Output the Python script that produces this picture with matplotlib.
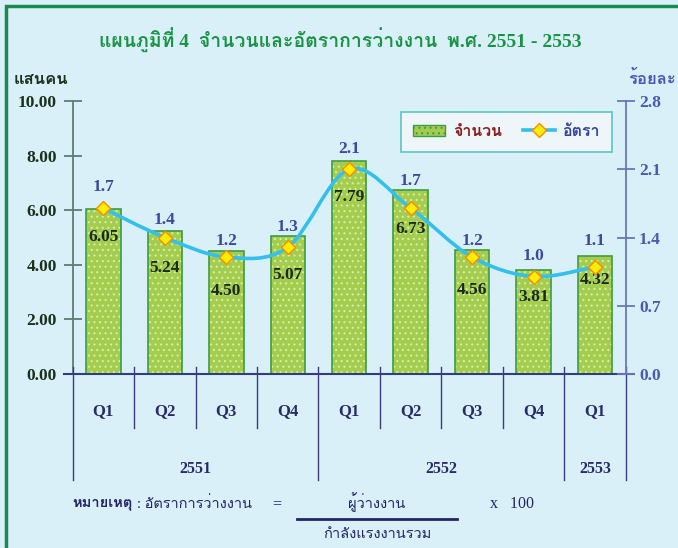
import matplotlib
matplotlib.use("Agg")
import matplotlib.pyplot as plt
import matplotlib.font_manager as fm
from matplotlib.ft2font import FT2Font
from matplotlib.path import Path
from matplotlib.patches import PathPatch, Rectangle, Patch
from matplotlib.lines import Line2D
from matplotlib.text import Annotation
import numpy as np

# ---------------- data ----------------
quarters = ["Q1", "Q2", "Q3", "Q4", "Q1", "Q2", "Q3", "Q4", "Q1"]
years = ["2551", "2552", "2553"]
year_spans = [(0, 3), (4, 7), (8, 8)]
values = [6.05, 5.24, 4.50, 5.07, 7.79, 6.73, 4.56, 3.81, 4.32]
rates = [1.7, 1.4, 1.2, 1.3, 2.1, 1.7, 1.2, 1.0, 1.1]
left_ticks = [0, 2, 4, 6, 8, 10]
right_ticks = [0.0, 0.7, 1.4, 2.1, 2.8]

title = "แผนภูมิที่ 4  จำนวนและอัตราการว่างงาน  พ.ศ. 2551 - 2553"

# label placement (pixels) as in the original chart
value_label_drop = [28, 37, 40, 39, 36, 39, 40, 27, 24]
rate_label_rise = [21, 18, 16, 20, 20, 27, 16, 21, 26]

# ------------- find a Thai-capable font -------------
thai_fams = []
for f in fm.fontManager.ttflist:
    try:
        ft = FT2Font(f.fname)
        if ft.get_char_index(0x0E08) and ft.get_char_index(0x0E33):
            if f.name not in thai_fams:
                thai_fams.append(f.name)
    except Exception:
        pass
SERIF = ["Liberation Serif"] + thai_fams + ["DejaVu Sans"]

BG = "#d9f0f8"
fig = plt.figure(figsize=(6.78, 5.48), dpi=100, facecolor=BG)
W, H = 678, 548
L, R, T, B = 72.7, 625.7, 101, 374
ax = fig.add_axes([L / W, 1 - B / H, (R - L) / W, (B - T) / H])
ax.set_facecolor("none")
ax2 = ax.twinx()
ax2.set_facecolor("none")

x = np.arange(len(values))
ax.set_xlim(-0.5, len(values) - 0.5)
ax.set_ylim(0, 10)
ax2.set_ylim(0, 2.8)

# bars (fill + hatch, then outline)
plt.rcParams["hatch.linewidth"] = 0.8
ax.bar(x, values, width=0.56, color="#a4cd50", edgecolor="#d6eea0",
       hatch="...", linewidth=0, zorder=2)
ax.bar(x, values, width=0.56, facecolor="none", edgecolor="#3f9c46",
       linewidth=1.2, zorder=3)

# value labels
for xi, v, d in zip(x, values, value_label_drop):
    ax.annotate(f"{v:.2f}", (xi, v), xytext=(0, -d), textcoords="offset pixels",
                ha="center", va="center", fontsize=12.5, fontweight="bold",
                family=SERIF, color="#1c2a1c", zorder=6)

# smooth rate line (Catmull-Rom bezier through the data points)
pts = np.column_stack([x, rates]).astype(float)
verts = [tuple(pts[0])]
codes = [Path.MOVETO]
for i in range(len(pts) - 1):
    p0 = pts[i - 1] if i > 0 else pts[i]
    p1, p2 = pts[i], pts[i + 1]
    p3 = pts[i + 2] if i + 2 < len(pts) else pts[i + 1]
    c1 = p1 + (p2 - p0) / 6.0
    c2 = p2 - (p3 - p1) / 6.0
    verts += [tuple(c1), tuple(c2), tuple(p2)]
    codes += [Path.CURVE4] * 3
ax2.add_patch(PathPatch(Path(verts, codes), facecolor="none",
                        edgecolor="#33c0ee", linewidth=2.6, zorder=4))
ax2.plot(x, rates, linestyle="none", marker="D", markersize=7,
         markerfacecolor="#ffee00", markeredgecolor="#ff8a00",
         markeredgewidth=1.0, zorder=5)
for xi, r, d in zip(x, rates, rate_label_rise):
    ax2.annotate(f"{r:.1f}", (xi, r), xytext=(0, d), textcoords="offset pixels",
                 ha="center", va="center", fontsize=12.5, fontweight="bold",
                 family=SERIF, color="#3a4aa4", zorder=6)

# axes styling
for a in (ax, ax2):
    a.spines["top"].set_visible(False)
    a.spines["bottom"].set_visible(False)
    a.set_xticks([])
ax2.spines["left"].set_visible(False)
ax.spines["right"].set_visible(False)
ax.spines["left"].set_color("#5e7c74")
ax.spines["left"].set_linewidth(1.3)
ax2.spines["right"].set_color("#6a78b8")
ax2.spines["right"].set_linewidth(1.3)

ax.set_yticks(left_ticks)
ax.set_yticklabels([f"{t:.2f}" for t in left_ticks], family=SERIF,
                   fontweight="bold", fontsize=12.5, color="#1c301c")
ax.tick_params(axis="y", direction="inout", length=13, width=1.3,
               color="#5e7c74", pad=5)
ax2.set_yticks(right_ticks)
ax2.set_yticklabels([f"{t:.1f}" for t in right_ticks], family=SERIF,
                    fontweight="bold", fontsize=12.5, color="#4a5ab4")
ax2.tick_params(axis="y", direction="inout", length=13, width=1.3,
                color="#6a78b8", pad=3)

# x axis line and category separators
ah = B - T
def ay(py):
    return (B - py) / ah
trans = ax.get_xaxis_transform()
ax.plot([-0.64, 8.64], [0, 0], transform=trans, color="#343c80",
        linewidth=1.5, clip_on=False, zorder=7)
year_bounds = [-0.5, 3.5, 7.5, 8.5]
for xb in np.arange(-0.5, len(values) + 0.5, 1.0):
    bottom = ay(480) if xb in year_bounds else ay(428)
    ax.plot([xb, xb], [ay(367), bottom], transform=trans, color="#3c3c7c",
            linewidth=1.0, clip_on=False, zorder=7)
for xi, q in zip(x, quarters):
    ax.text(xi, ay(411), q, transform=trans, ha="center", va="center",
            family=SERIF, fontweight="bold", fontsize=12, color="#2a2a6a")
for yr, (a0, a1) in zip(years, year_spans):
    ax.text((a0 + a1) / 2, ay(469), yr, transform=trans, ha="center",
            va="center", family=SERIF, fontweight="bold", fontsize=11.5,
            color="#2a2a6a")

# legend
handles = [Patch(facecolor="#a4cd50", edgecolor="#3f9c46", hatch="...",
                 linewidth=1.0),
           Line2D([0], [0], color="#33c0ee", linewidth=2.6, marker="D",
                  markersize=7, markerfacecolor="#ffee00",
                  markeredgecolor="#ff8a00")]
leg = ax2.legend(handles, ["จำนวน", "อัตรา"], ncol=2, loc="upper right",
                 bbox_to_anchor=((612 - L) / (R - L), ay(112)),
                 borderaxespad=0, frameon=True, fancybox=False,
                 borderpad=0.75, columnspacing=1.3, handlelength=2.0,
                 handletextpad=0.5,
                 prop={"family": SERIF, "weight": "bold", "size": 11.5})
leg.get_frame().set_facecolor("#eef6fa")
leg.get_frame().set_edgecolor("#5cc4c4")
leg.get_frame().set_linewidth(1.2)
leg.get_frame().set_alpha(1)
leg.get_texts()[0].set_color("#8c1c1c")
leg.get_texts()[1].set_color("#3444a4")
leg.set_zorder(10)

# titles and axis captions
def ftext(px, py, s, **kw):
    return fig.text(px / W, 1 - py / H, s, family=SERIF, **kw)

ftext(340, 40, title, ha="center", va="center", fontsize=14,
      fontweight="bold", color="#1a9444")
ftext(14, 80, "แสนคน", ha="left", va="center", fontsize=12,
      fontweight="bold", color="#1c301c")
ftext(676, 80, "ร้อยละ", ha="right", va="center", fontsize=12,
      fontweight="bold", color="#4a5ab4")

# footnote
t1 = ftext(72, 504, "หมายเหตุ", ha="left", va="center", fontsize=10.5,
           fontweight="bold", color="#24246a")
fig.add_artist(Annotation(
    ": อัตราการว่างงาน", xy=(1, 0.5), xycoords=t1, xytext=(3, 0),
    textcoords="offset points", ha="left", va="center", family=SERIF,
    fontsize=10.5, color="#24246a"))
ftext(277, 504, "=", ha="center", va="center", fontsize=11.5,
      color="#24246a")
ftext(377, 502, "ผู้ว่างงาน", ha="center", va="center", fontsize=10.5,
      color="#24246a")
fig.add_artist(Line2D([297 / W, 457 / W], [1 - 519 / H, 1 - 519 / H],
                      color="#24246a", linewidth=2.0))
ftext(377, 535, "กำลังแรงงานรวม", ha="center", va="center", fontsize=10.5,
      color="#24246a")
ftext(490, 504, "x   100", ha="left", va="center", fontsize=11.5,
      color="#24246a")

# green frame
fig.add_artist(Rectangle((5.5 / W, -0.05), 1.2, (H - 5.5) / H + 0.05,
                         transform=fig.transFigure, fill=False,
                         edgecolor="#1a8a50", linewidth=2.5))

fig.savefig("out.png", dpi=100, facecolor=BG)
